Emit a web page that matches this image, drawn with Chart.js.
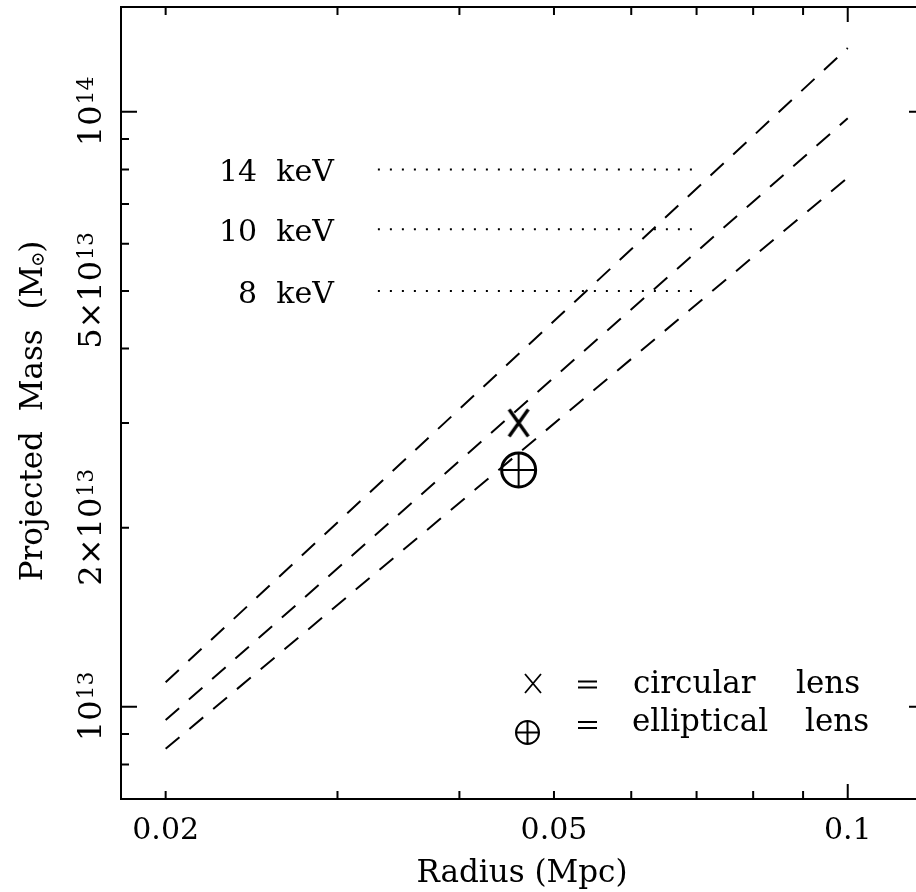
<!DOCTYPE html>
<html>
<head>
<meta charset="utf-8">
<script src="https://cdn.jsdelivr.net/npm/chart.js@4.4.0/dist/chart.umd.min.js"></script>
<style>
  html, body { margin: 0; padding: 0; background: #fff; overflow: hidden; }
  #wrap { width: 940px; height: 892px; }
</style>
</head>
<body>
<div id="wrap"><canvas id="massChart"></canvas></div>
<script>
// projected mass against radius for three gas temperatures
const radiusEnds = [0.02, 0.1];
const mass14keV = [1.1e13, 1.28e14];
const mass10keV = [9.5e12, 9.75e13];
const mass8keV = [8.5e12, 7.75e13];

// dotted temperature levels
const levelRadii = [0.033, 0.07];
const levelMasses = [8.0e13, 6.35e13, 5.0e13];
const levelLabels = ["14 keV", "10 keV", "8 keV"];

// lens estimates
const lensRadius = [0.046];
const circularMass = [3.0e13];
const ellipticalMass = [2.5e13];

const xLabelTicks = [0.02, 0.05, 0.1];
const yLabelTicks = [1e13, 2e13, 5e13, 1e14];

const xMin = 0.018, xMax = 0.12;
const yMin = 7e12, yMax = 1.5e14;

const FONT = '"DejaVu Serif", serif';
const INK = "#000";

function pairs(xs, ys) {
  return xs.map((x, i) => ({ x: x, y: ys[i] }));
}

// "X" marker drawn as a tall cross
function makeXMark(w, h, lw) {
  const c = document.createElement("canvas");
  c.width = w; c.height = h;
  const g = c.getContext("2d");
  g.strokeStyle = INK;
  g.lineWidth = lw;
  g.beginPath();
  g.moveTo(lw, lw); g.lineTo(w - lw, h - lw);
  g.moveTo(w - lw, lw); g.lineTo(lw, h - lw);
  g.stroke();
  return c;
}
const xMark = makeXMark(26, 34, 3.4);

const dashed = (label, ys) => ({
  label: label,
  data: pairs(radiusEnds, ys),
  showLine: true,
  borderColor: INK,
  borderWidth: 2,
  borderDash: [18, 13],
  pointRadius: 0,
  fill: false
});

const dotted = (label, level) => ({
  label: label,
  data: pairs(levelRadii, levelRadii.map(() => level)),
  showLine: true,
  borderColor: INK,
  borderWidth: 2,
  borderDash: [2, 10],
  pointRadius: 0,
  fill: false
});

// superscript helper for labels like 2×10^13
function drawPower(ctx, mant, exp, x, y, size, supSize) {
  ctx.font = size + "px " + FONT;
  const base = ctx.measureText(mant).width;
  ctx.font = supSize + "px " + FONT;
  const sup = ctx.measureText(exp).width;
  const start = x - (base + sup) / 2;
  ctx.textAlign = "left";
  ctx.font = size + "px " + FONT;
  ctx.fillText(mant, start, y);
  ctx.font = supSize + "px " + FONT;
  ctx.fillText(exp, start + base + 1, y - 8);
}

function splitPower(v) {
  const e = Math.floor(Math.log10(v) + 1e-9);
  const m = Math.round(v / Math.pow(10, e));
  return { mant: (m === 1 ? "" : m + "\u00d7") + "10", exp: String(e) };
}

const axesPlugin = {
  id: "pgAxes",
  afterDraw(chart) {
    const ctx = chart.ctx;
    const a = chart.chartArea;
    const xs = chart.scales.x, ys = chart.scales.y;
    ctx.save();
    ctx.strokeStyle = INK;
    ctx.fillStyle = INK;
    ctx.lineWidth = 2;
    ctx.strokeRect(a.left, a.top, a.right - a.left, a.bottom - a.top);

    // inward ticks, long at decades
    ctx.beginPath();
    for (let d = -2; d <= -1; d++) {
      for (let k = 1; k <= 9; k++) {
        const v = k * Math.pow(10, d);
        if (v < xMin || v > xMax) continue;
        const px = xs.getPixelForValue(v);
        const len = k === 1 ? 15 : 8;
        ctx.moveTo(px, a.bottom); ctx.lineTo(px, a.bottom - len);
        ctx.moveTo(px, a.top); ctx.lineTo(px, a.top + len);
      }
    }
    for (let d = 12; d <= 14; d++) {
      for (let k = 1; k <= 9; k++) {
        const v = k * Math.pow(10, d);
        if (v < yMin || v > yMax) continue;
        const py = ys.getPixelForValue(v);
        const len = k === 1 ? 16 : 8;
        ctx.moveTo(a.left, py); ctx.lineTo(a.left + len, py);
        ctx.moveTo(a.right, py); ctx.lineTo(a.right - len, py);
      }
    }
    ctx.stroke();

    ctx.textBaseline = "alphabetic";
    // x tick labels
    ctx.font = "30px " + FONT;
    ctx.textAlign = "center";
    xLabelTicks.forEach(v => {
      ctx.fillText(String(v), xs.getPixelForValue(v), a.bottom + 40);
    });

    // y tick labels, rotated
    yLabelTicks.forEach(v => {
      const p = splitPower(v);
      ctx.save();
      ctx.translate(101, ys.getPixelForValue(v));
      ctx.rotate(-Math.PI / 2);
      drawPower(ctx, p.mant, p.exp, 0, 0, 32, 22);
      ctx.restore();
    });

    // axis titles
    ctx.font = "31px " + FONT;
    ctx.textAlign = "center";
    ctx.fillText("Radius (Mpc)", 522, a.bottom + 83);

    ctx.save();
    ctx.translate(42, 411);
    ctx.rotate(-Math.PI / 2);
    ctx.font = "31px " + FONT;
    const t1 = "Projected  Mass  (M";
    const w1 = ctx.measureText(t1).width;
    const w2 = ctx.measureText(")").width;
    const sun = 13;
    const sx = -(w1 + sun + w2) / 2;
    ctx.textAlign = "left";
    ctx.fillText(t1, sx, 0);
    ctx.beginPath();
    ctx.lineWidth = 1.6;
    ctx.arc(sx + w1 + sun / 2, -4, 5, 0, Math.PI * 2);
    ctx.stroke();
    ctx.beginPath();
    ctx.arc(sx + w1 + sun / 2, -4, 1.3, 0, Math.PI * 2);
    ctx.fill();
    ctx.fillText(")", sx + w1 + sun, 0);
    ctx.restore();

    // temperature labels beside the dotted levels
    ctx.font = "30px " + FONT;
    ctx.textAlign = "right";
    levelLabels.forEach((lab, i) => {
      const pt = chart.getDatasetMeta(3 + i).data[0];
      ctx.fillText(lab.replace(" ", "  "), pt.x - 44, pt.y + 12);
    });

    // key
    ctx.lineWidth = 1.8;
    ctx.beginPath();
    ctx.moveTo(525, 674); ctx.lineTo(541, 693);
    ctx.moveTo(541, 674); ctx.lineTo(525, 693);
    ctx.stroke();
    ctx.beginPath();
    ctx.lineWidth = 2;
    ctx.arc(527.5, 732.5, 11.5, 0, Math.PI * 2);
    ctx.moveTo(516, 732.5); ctx.lineTo(539, 732.5);
    ctx.moveTo(527.5, 721); ctx.lineTo(527.5, 744);
    ctx.stroke();
    ctx.beginPath();
    ctx.lineWidth = 1.8;
    [684.5, 725].forEach(cy => {
      ctx.moveTo(578, cy - 3); ctx.lineTo(597, cy - 3);
      ctx.moveTo(578, cy + 3); ctx.lineTo(597, cy + 3);
    });
    ctx.stroke();
    ctx.font = "31px " + FONT;
    ctx.textAlign = "left";
    ctx.fillText("circular", 633, 693);
    ctx.fillText("lens", 796, 693);
    ctx.fillText("elliptical", 632, 731);
    ctx.fillText("lens", 805, 731);
    ctx.restore();
  }
};

new Chart(document.getElementById("massChart"), {
  type: "scatter",
  data: {
    datasets: [
      dashed("14 keV", mass14keV),
      dashed("10 keV", mass10keV),
      dashed("8 keV", mass8keV),
      dotted("14 keV level", levelMasses[0]),
      dotted("10 keV level", levelMasses[1]),
      dotted("8 keV level", levelMasses[2]),
      {
        label: "circular lens",
        data: pairs(lensRadius, circularMass),
        pointStyle: xMark,
        pointRadius: 14
      },
      {
        label: "elliptical lens",
        data: pairs(lensRadius, ellipticalMass),
        pointStyle: "circle",
        pointRadius: 17,
        borderWidth: 3,
        borderColor: INK,
        backgroundColor: "rgba(0,0,0,0)"
      },
      {
        label: "elliptical lens cross",
        data: pairs(lensRadius, ellipticalMass),
        pointStyle: "cross",
        pointRadius: 17,
        borderWidth: 2,
        borderColor: INK
      }
    ]
  },
  options: {
    responsive: true,
    maintainAspectRatio: false,
    animation: false,
    layout: { autoPadding: false, padding: { top: 7, right: 15, left: 0, bottom: 0 } },
    plugins: { legend: { display: false }, tooltip: { enabled: false } },
    scales: {
      x: {
        type: "logarithmic",
        min: xMin,
        max: xMax,
        ticks: { display: false },
        grid: { display: false },
        border: { display: false },
        afterFit: s => { s.height = 93; }
      },
      y: {
        type: "logarithmic",
        min: yMin,
        max: yMax,
        ticks: { display: false },
        grid: { display: false },
        border: { display: false },
        afterFit: s => { s.width = 121; }
      }
    }
  },
  plugins: [axesPlugin]
});
</script>
</body>
</html>
